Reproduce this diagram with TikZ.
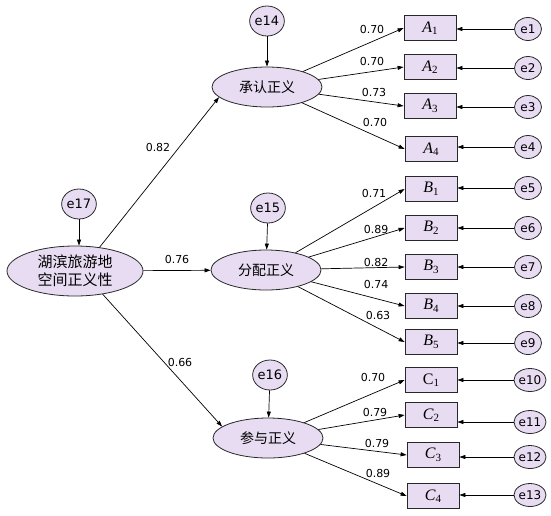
\documentclass[tikz,border=0pt]{standalone}
\usepackage{fontspec}
\setmainfont{Liberation Serif}
\newfontfamily\cjk{Noto Sans CJK SC}
\newfontfamily\sansf{DejaVu Sans}
\usetikzlibrary{shapes.geometric,arrows.meta}
\definecolor{lav}{RGB}{232,220,242}
\definecolor{edgec}{RGB}{40,40,40}
\newcommand{\obsl}[2]{#1\raisebox{-0.35ex}{\upshape\fontsize{11}{12}\selectfont #2}}
\begin{document}
\begin{tikzpicture}[x=1pt,y=-1pt,
  >={Triangle[length=6pt,width=4pt]},
  lat/.style={ellipse,draw=edgec,fill=lav,line width=0.8pt,minimum width=110pt,minimum height=40pt,inner sep=0pt,font=\cjk\fontsize{14}{16}\selectfont},
  err/.style={ellipse,draw=edgec,fill=lav,line width=0.8pt,minimum width=34pt,minimum height=30pt,inner sep=0pt,font=\sansf\fontsize{13}{15}\selectfont},
  errs/.style={ellipse,draw=edgec,fill=lav,line width=0.8pt,minimum width=27pt,minimum height=23pt,inner sep=0pt,font=\sansf\fontsize{12}{14}\selectfont},
  obs/.style={rectangle,draw=edgec,fill=lav,line width=0.8pt,minimum width=52pt,minimum height=25pt,inner sep=0pt,font=\fontsize{16}{18}\selectfont},
  coef/.style={font=\sansf\fontsize{11}{13}\selectfont,inner sep=0pt},
  pth/.style={->,line width=0.7pt,draw=black}
]
\useasboundingbox (0,0) rectangle (551,515);
% latent
\node[lat,minimum width=136pt,minimum height=50pt,align=center,font=\cjk\fontsize{15}{18}\selectfont] (M) at (75,271) {湖滨旅游地\\空间正义性};
\node[lat] (F1) at (267,87) {承认正义};
\node[lat] (F2) at (266,270) {分配正义};
\node[lat] (F3) at (268,438) {参与正义};
% disturbances
\node[err] (e17) at (79,204) {e17};
\node[err] (e14) at (267,21) {e14};
\node[err] (e15) at (268,208) {e15};
\node[err] (e16) at (270,375) {e16};
% observed
\node[obs] (A1) at (430,28) {\obsl{\textit{A}}{1}};
\node[obs] (A2) at (430,67) {\obsl{\textit{A}}{2}};
\node[obs] (A3) at (430,106) {\obsl{\textit{A}}{3}};
\node[obs] (A4) at (431,149) {\obsl{\textit{A}}{4}};
\node[obs] (B1) at (431,189) {\obsl{\textit{B}}{1}};
\node[obs] (B2) at (431,228) {\obsl{\textit{B}}{2}};
\node[obs] (B3) at (431,267) {\obsl{\textit{B}}{3}};
\node[obs] (B4) at (431,306) {\obsl{\textit{B}}{4}};
\node[obs] (B5) at (431,342) {\obsl{\textit{B}}{5}};
\node[obs] (C1) at (431,380) {\obsl{C}{1}};
\node[obs] (C2) at (431,415) {\obsl{\textit{C}}{2}};
\node[obs] (C3) at (433,455) {\obsl{\textit{C}}{3}};
\node[obs] (C4) at (433,496) {\obsl{\textit{C}}{4}};
% errors
\node[errs] (e1) at (528,29) {e1};
\node[errs] (e2) at (528,68) {e2};
\node[errs] (e3) at (528,107) {e3};
\node[errs] (e4) at (528,147) {e4};
\node[errs] (e5) at (528,188) {e5};
\node[errs] (e6) at (528,228) {e6};
\node[errs] (e7) at (528,267) {e7};
\node[errs] (e8) at (528,306) {e8};
\node[errs] (e9) at (528,343) {e9};
\node[errs] (e10) at (530,380) {e10};
\node[errs] (e11) at (530,422) {e11};
\node[errs] (e12) at (530,457) {e12};
\node[errs] (e13) at (530,495) {e13};
% structural paths
\draw[pth] (M.44) -- (F1.192);
\draw[pth] (M) -- (F2);
\draw[pth] (M.-40) -- (F3.166);
\draw[pth] (e17) -- (e17 |- M.north);
\draw[pth] (e14) -- (F1);
\draw[pth] (e15) -- (F2);
\draw[pth] (e16) -- (F3);
% loadings
\foreach \f/\o in {F1/A1,F1/A2,F1/A3,F1/A4,F2/B1,F2/B2,F2/B3,F2/B4,F2/B5,F3/C1,F3/C2,F3/C3,F3/C4}
  \draw[pth] (\f) -- (\o.west);
% error arrows
\foreach \e/\o in {e1/A1,e2/A2,e3/A3,e4/A4,e5/B1,e6/B2,e7/B3,e8/B4,e9/B5,e10/C1,e11/C2,e12/C3,e13/C4}
  \draw[pth] (\e) -- (\e -| \o.east);
% coefficients
\node[coef] (k1) at (158,147) {0.82};
\node[coef] (k2) at (177,259) {0.76};
\node[coef] (k3) at (180,362) {0.66};
\node[coef] (a1) at (372,29) {0.70};
\node[coef] (a2) at (372,61) {0.70};
\node[coef] (a3) at (374,92) {0.73};
\node[coef] (a4) at (375,122) {0.70};
\node[coef] (b1) at (374,193) {0.71};
\node[coef] (b2) at (376,229) {0.89};
\node[coef] (b3) at (376,262) {0.82};
\node[coef] (b4) at (376,284) {0.74};
\node[coef] (b5) at (378,315) {0.63};
\node[coef] (c1) at (373,377) {0.70};
\node[coef] (c2) at (375,412) {0.79};
\node[coef] (c3) at (377,443) {0.79};
\node[coef] (c4) at (378,473) {0.89};
\end{tikzpicture}
\end{document}
